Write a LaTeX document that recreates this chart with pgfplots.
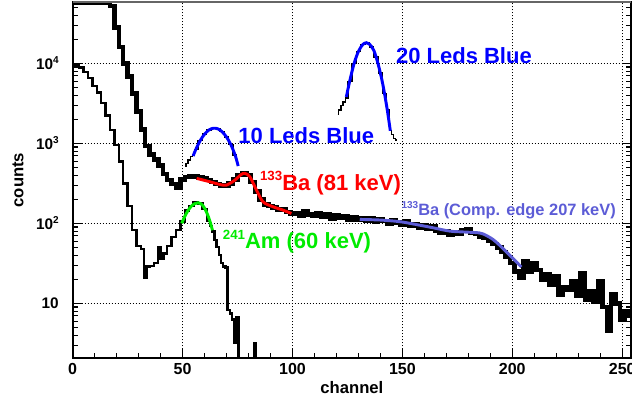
\documentclass[border=0pt]{standalone}
\usepackage{fontspec}
\setmainfont{Liberation Sans}
\usepackage{pgfplots}
\pgfplotsset{compat=1.18}

\definecolor{ledblue}{RGB}{0,0,255}
\definecolor{bared}{RGB}{255,0,0}
\definecolor{amgreen}{RGB}{0,235,0}
\definecolor{compton}{RGB}{92,92,214}

% raised small number (isotope mass, exponent)
\newcommand{\up}[2]{\raisebox{0.42em}{\fontsize{#1}{#1}\selectfont #2}}
\newcommand{\lbl}{\bfseries\fontsize{16.5}{16.5}\selectfont}

\begin{document}
\begin{tikzpicture}
\begin{axis}[
  name=ax,
  scale only axis,
  width=418.7pt, height=267.5pt,
  xmin=0, xmax=254,
  ymode=log, ymin=2.05, ymax=58900,
  xtick={0,50,100,150,200,250},
  minor x tick num=4,
  ytick={1,10,100,1000,10000,100000},
  yticklabel={\pgfmathtruncatemacro\e{round(\tick/ln(10))}\ifnum\e=1 10\else 10\up{7.5}{\e}\fi},
  xtick pos=left, ytick pos=both,
  tick align=inside,
  major tick length=6.75pt, minor tick length=4pt,
  tick style={black, line width=0.8pt},
  axis line style={black, line width=1.6pt},
  grid=major,
  grid style={black, line width=0.7pt, dash pattern=on 0.75pt off 1.5pt},
  /pgf/number format/assume math mode=true,
  xticklabel style={font=\bfseries\fontsize{12}{12}\selectfont},
  yticklabel style={font=\bfseries\fontsize{11.5}{11.5}\selectfont, xshift=-7pt},
  xlabel={channel}, ylabel={counts},
  label style={font=\bfseries\fontsize{12.5}{12.5}\selectfont},
  xlabel style={at={(axis description cs:0.5,-0.0981)}, anchor=base},
  ylabel style={at={(axis description cs:-0.0881,0.5)}, anchor=base},
]

% full spectrum (LEDs + sources)
\addplot[black, line width=3.4pt, const plot mark mid] coordinates {
(0,57000) (2,57000) (4,57000) (6,57000) (8,57000) (10,57000) (12,57000) (14,57000) (16,57000)
(18,52000) (20,28000) (22,16000) (24,10000) (26,6800) (28,4200) (30,2500) (32,1480)
(34,930) (36,720) (38,630) (40,525) (42,415) (44,350) (46,310) (48,280)
(50,355) (52,380) (54,390) (56,385) (58,375) (60,365) (62,350) (64,330) (66,310)
(68,292) (70,295) (72,315) (74,355) (76,400) (78,425) (80,400) (82,330) (84,250)
(86,200) (88,172) (90,165) (92,158) (94,150) (96,148) (98,138) (100,132) (102,135)
(104,126) (106,141) (108,129) (110,123) (112,135) (114,120) (116,129) (118,115)
(120,126) (122,117) (124,123) (126,112) (128,120) (130,110) (132,117) (134,107)
(136,115) (138,105) (140,112) (142,107) (144,100) (146,110) (148,102) (150,95)
(152,105) (154,93) (156,98) (158,89) (160,95) (162,85) (164,91) (166,81) (168,76)
(170,79) (172,72) (174,78) (176,74) (178,81) (180,85) (182,76) (184,74) (186,69)
(188,66) (190,60) (192,55) (194,50) (196,44) (198,38) (200,32) (202,25) (204,21)
(206,34) (208,25) (210,32) (212,26) (214,20) (216,23) (218,17) (220,22) (222,13)
(224,16) (226,15) (228,19) (230,12.6) (232,24) (234,11) (236,14) (238,10.5)
(240,19) (242,9) (244,4.6) (246,13) (248,10) (250,6.3) (252,8) (254,7)
};

% 241Am + 133Ba source alone
\addplot[black, line width=1.8pt, const plot mark mid] coordinates {
(0,9100) (2,9500) (4,8900) (6,7800) (8,6600) (10,5200) (12,4300) (14,3200)
(16,2240) (18,1480) (20,950) (22,590) (24,316) (26,166) (28,83) (30,52) (32,48)
(33,21) (34,29) (36,29.5) (38,32) (39.5,51) (40.5,36) (42,42) (44,52) (46,68)
(48,83) (50,105) (52,145) (54,166) (56,186) (58,178) (60,151) (62,107) (63,92)
(64,79) (65,62) (66,51) (67,40) (68,32) (69,29) (70,28) (71,8.3) (72,7.5) (73,6.3)
(74,3.2) (75,6.8) (76,1) (78,1) (80,1) (82,1) (83,3.2) (84,1) (86,1)
};

% LED histograms (mostly hidden below the fits)
\addplot[black, line width=1pt, const plot mark mid] coordinates {
(51,520) (52,560) (53,620) (54,680) (55,720) (56,836) (58,1081) (60,1303) (62,1469)
(64,1545) (66,1520) (68,1396) (70,1197) (72,959) (74,718) (75,560)
};
\addplot[black, line width=1pt, const plot mark mid] coordinates {
(120.5,2300) (121.5,2600) (122.5,2950) (123.5,3300) (124.5,3700) (126,5950)
(128,9900) (130,14100) (132,17200) (134,18000) (136,16000) (138,12000) (140,7600)
(142,4200) (143.5,2600) (144.5,1450) (145.5,1300) (146.5,1150) (147.5,1100)
};

% fits
\addplot[ledblue, line width=2.2pt, smooth] coordinates {
(54.8,695) (56,836) (58,1081) (60,1303) (62,1469) (64,1545) (66,1520) (68,1396)
(70,1197) (72,959) (74,700) (75.3,520)
};
\addplot[ledblue, line width=2.2pt, smooth] coordinates {
(124.5,3800) (126,5950) (128,9900) (130,14100) (132,17200) (133.6,18100) (135,17400)
(137,14500) (139,9700) (141,5630) (143,2750) (144.5,1435)
};
\addplot[bared, line width=2.2pt, smooth] coordinates {
(56.4,365) (62.4,331) (67,306) (70,301) (73.8,347) (76.5,405) (78.3,422) (80.6,383)
(83.6,261) (86.6,186) (91.2,161) (95.5,147) (99.5,133)
};
\addplot[amgreen, line width=2.2pt, smooth] coordinates {
(49.6,100) (51,122) (52.5,145) (54,164) (55.5,176) (57.1,181) (58.5,175) (60,155)
(61.5,126) (62.5,105) (63.6,82)
};
\addplot[compton, line width=2.2pt, smooth] coordinates {
(130.6,112) (140,110) (148.8,105) (156,97) (164,88) (171.5,80) (178,78) (185,76)
(188,71) (191.2,63) (194,54) (197.3,44) (200.5,36) (204.1,28.5)
};

\node[anchor=base west, inner sep=0pt, text=ledblue, font=\lbl] at (axis cs:147,10000) {20 Leds Blue};
\node[anchor=base west, inner sep=0pt, text=ledblue, font=\lbl] at (axis cs:75.3,1000) {10 Leds Blue};
\node[anchor=base west, inner sep=0pt, text=bared, font=\lbl] at (axis cs:85.1,261) {\up{10}{133}Ba (81 keV)};
\node[anchor=base west, inner sep=0pt, text=amgreen, font=\lbl] at (axis cs:68.2,48.7) {\up{10}{241}Am (60 keV)};
\node[anchor=base west, inner sep=0pt, text=compton, font=\bfseries\fontsize{12.3}{12.3}\selectfont] at (axis cs:149.5,127) {\up{7.5}{133}Ba (Comp. edge 207 keV)};
\end{axis}
\draw[black!60, line width=1.6pt] (ax.north west) -- (ax.north east);
\pgfresetboundingbox
\path ([shift={(-54.5pt,-35pt)}]ax.south west) rectangle ([shift={(0.75pt,1.3pt)}]ax.north east);
\end{tikzpicture}
\end{document}
